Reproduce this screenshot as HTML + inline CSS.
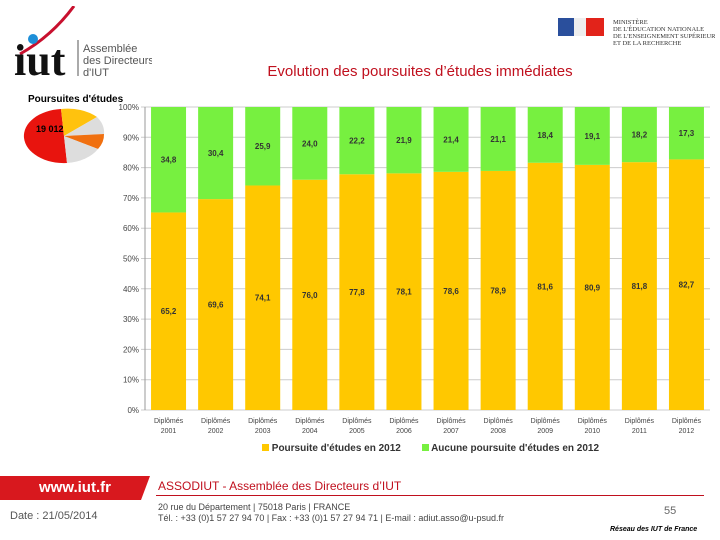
<!DOCTYPE html>
<html><head><meta charset="utf-8"><style>
body{margin:0;width:720px;height:540px;background:#fff;overflow:hidden;position:relative;font-family:"Liberation Sans",sans-serif}
.abs{position:absolute}
</style></head><body>
<div class="abs" style="left:12px;top:6px;width:140px;height:70px">
 <svg width="140" height="70"><path d="M8 48 Q40 30 62 0" stroke="#c8102e" stroke-width="3" fill="none"/><circle cx="21" cy="33" r="5" fill="#1e8fd8"/>
 <text x="2" y="69" font-family="Liberation Serif" font-size="44" font-weight="bold" fill="#111">iut</text>
 <line x1="66" y1="34" x2="66" y2="70" stroke="#555"/>
 <text x="71" y="46" font-size="11" fill="#555">Assemblée</text><text x="71" y="58" font-size="11" fill="#555">des Directeurs</text><text x="71" y="70" font-size="11" fill="#555">d'IUT</text></svg>
</div>
<div class="abs" style="left:555px;top:16px;width:160px;height:32px">
 <svg width="160" height="32"><rect x="3" y="2" width="16" height="18" fill="#2a4f9c"/><rect x="19" y="2" width="12" height="18" fill="#eee"/><rect x="31" y="2" width="18" height="18" fill="#e2231a"/>
 <text x="58" y="8" font-family="Liberation Serif" font-size="6.5" fill="#333">MINISTÈRE</text><text x="58" y="15" font-family="Liberation Serif" font-size="6.5" fill="#333">DE L'ÉDUCATION NATIONALE</text><text x="58" y="22" font-family="Liberation Serif" font-size="6.5" fill="#333">DE L'ENSEIGNEMENT SUPÉRIEUR</text><text x="58" y="29" font-family="Liberation Serif" font-size="6.5" fill="#333">ET DE LA RECHERCHE</text></svg>
</div>
<div class="abs" style="left:150px;top:63px;width:540px;text-align:center;font-size:15px;color:#c0101e">Evolution des poursuites d’études immédiates</div>
<div class="abs" style="left:28px;top:94px;font-size:10px;font-weight:bold">Poursuites d'études</div>
<svg class="abs" style="left:16px;top:106px" width="96" height="60">
 <path d="M48 30 L45 3 A40 27 0 0 0 51 57 Z" fill="#e8140e"/>
 <path d="M48 30 L45 3 A40 27 0 0 1 81 11 Z" fill="#ffc20e"/>
 <path d="M48 30 L81 11 A40 27 0 0 1 88 28 Z" fill="#ddd"/>
 <path d="M48 30 L88 28 A40 27 0 0 1 82 43 Z" fill="#f07010"/>
 <path d="M48 30 L82 43 A40 27 0 0 1 51 57 Z" fill="#ddd"/>
 <text x="20" y="26" font-size="9" font-weight="bold">19 012</text>
</svg>
<svg class="abs" id="chart" style="left:0;top:0" width="720" height="470"></svg>
<div class="abs" style="left:262px;top:443px;font-size:10px;font-weight:bold;color:#333;white-space:nowrap">
 <span><span style="display:inline-block;width:7px;height:7px;background:#ffc800"></span> Poursuite d'études en 2012</span>
 <span style="margin-left:18px"><span style="display:inline-block;width:7px;height:7px;background:#77f040"></span> Aucune poursuite d'études en 2012</span>
</div>
<div class="abs" style="left:0;top:476px;width:150px;height:24px;background:#d8181e;clip-path:polygon(0 0,100% 0,94% 100%,0 100%);color:#fff;font-size:15px;font-weight:bold;line-height:24px;text-align:center">www.iut.fr</div>
<div class="abs" style="left:10px;top:510px;font-size:11px;color:#555">Date : 21/05/2014</div>
<div class="abs" style="left:158px;top:479px;font-size:12px;color:#c0101e">ASSODIUT - Assemblée des Directeurs d’IUT</div>
<div class="abs" style="left:156px;top:495px;width:548px;height:1px;background:#c0101e"></div>
<div class="abs" style="left:158px;top:502px;font-size:9px;color:#444;line-height:11px">20 rue du Département | 75018 Paris | FRANCE<br>Tél. : +33 (0)1 57 27 94 70 | Fax : +33 (0)1 57 27 94 71 | E-mail : adiut.asso@u-psud.fr</div>
<div class="abs" style="left:664px;top:505px;font-size:11px;color:#666">55</div>
<div class="abs" style="left:610px;top:526px;font-size:7px;font-weight:bold;font-style:italic">Réseau des IUT de France</div>
<script>
const categories=["2001","2002","2003","2004","2005","2006","2007","2008","2009","2010","2011","2012"];
const poursuite=[65.2,69.6,74.1,76.0,77.8,78.1,78.6,78.9,81.6,80.9,81.8,82.7];
const aucune=[34.8,30.4,25.9,24.0,22.2,21.9,21.4,21.1,18.4,19.1,18.2,17.3];
const yTicks=[0,10,20,30,40,50,60,70,80,90,100];
const svg=document.getElementById('chart');const NS='http://www.w3.org/2000/svg';
const x0=145,x1=710,y0=410,y1=107;
const y=v=>y0-(v/100)*(y0-y1);
const slot=(x1-x0)/categories.length,bw=35;
function mk(t,a){const e=document.createElementNS(NS,t);for(const k in a)e.setAttribute(k,a[k]);svg.appendChild(e);return e;}
yTicks.forEach(v=>{
 const l=mk('line',{x1:x0-4,x2:x1,y1:y(v),y2:y(v),stroke:'#ccc'});
 
 
 const t=mk('text',{x:x0-6,y:y(v)+3,'text-anchor':'end','font-size':'8',fill:'#444'});t.textContent=v+'%';
 
 
});
mk('line',{x1:x0,x2:x0,y1:y1,y2:y0,stroke:'#999'});
categories.forEach((c,i)=>{
 const bx=x0+i*slot+(slot-bw)/2,cx=bx+bw/2;
 const p=poursuite[i],a=aucune[i];
 const r1=mk('rect',{x:bx,y:y(p),width:bw,height:y0-y(p),fill:'#ffc800'});
 
 
 const r2=mk('rect',{x:bx,y:y(p+a),width:bw,height:y(p)-y(p+a),fill:'#77f040'});
 
 
 const t1=mk('text',{x:cx,y:y(p/2)+3,'text-anchor':'middle','font-size':'8','font-weight':'bold',fill:'#333'});t1.textContent=p.toFixed(1).replace('.',',');
 
 
 const t2=mk('text',{x:cx,y:y(p+a/2)+3,'text-anchor':'middle','font-size':'8','font-weight':'bold',fill:'#333'});t2.textContent=a.toFixed(1).replace('.',',');
 
 
 const l1=mk('text',{x:cx,y:423,'text-anchor':'middle','font-size':'7',fill:'#444'});l1.textContent='Diplômés';
 
 
 const l2=mk('text',{x:cx,y:433,'text-anchor':'middle','font-size':'7',fill:'#444'});l2.textContent=c;
 
 
});
</script>
</body></html>
